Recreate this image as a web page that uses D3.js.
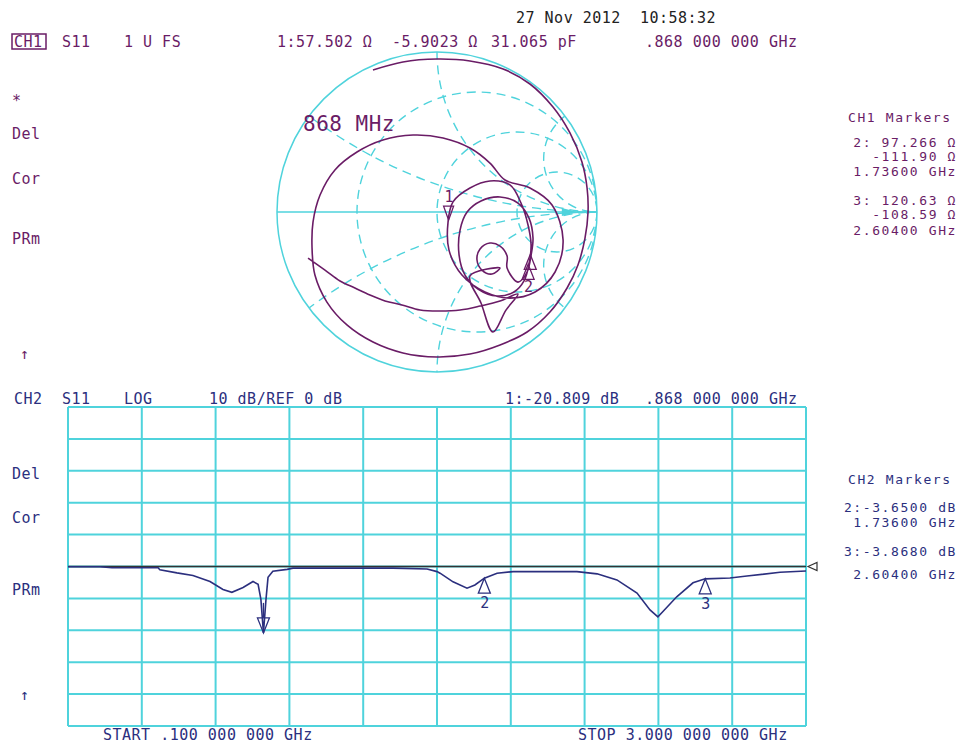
<!DOCTYPE html>
<html>
<head>
<meta charset="utf-8">
<script src="https://cdn.jsdelivr.net/npm/d3@7"></script>
<style>
  body { margin: 0; background: #fff; }
  svg text { font-family: "DejaVu Sans Mono", "Liberation Mono", monospace; font-size: 15px; letter-spacing: 0.5px; white-space: pre; }
</style>
</head>
<body>
<svg id="chart" width="957" height="744"></svg>
<script>
// ---- CH2 log magnitude trace (GHz, dB) ----
const freqGHz = [0.100, 0.226, 0.273, 0.454, 0.461, 0.528, 0.591, 0.658, 0.709, 0.744, 0.788, 0.827, 0.847, 0.858, 0.868, 0.878, 0.886, 0.905, 0.961, 0.984, 1.377, 1.511, 1.550, 1.562, 1.613, 1.668, 1.699, 1.736, 1.786, 1.849, 2.100, 2.179, 2.257, 2.336, 2.387, 2.418, 2.437, 2.492, 2.556, 2.604, 2.701, 2.768, 2.898, 3.000];
const s11dB = [-0.1, -0.1, -0.4, -0.4, -1.0, -2.0, -2.8, -4.7, -7.2, -8.1, -6.6, -4.7, -5.6, -10.3, -20.8, -10.3, -3.4, -1.5, -0.9, -0.5, -0.5, -0.8, -1.6, -2.1, -4.8, -6.8, -5.8, -3.65, -2.1, -1.6, -1.6, -2.3, -4.2, -8.3, -13.6, -15.8, -14.2, -9.5, -5.1, -3.87, -3.6, -3.0, -1.8, -1.4];

// ---- CH1 Smith chart trace (reflection coefficient, real / imag) ----
const gammaRe = [
  -0.400, -0.213, 0.000, 0.206, 0.413, 0.581, 0.725, 0.831, 0.906, 0.938, 0.944, 0.925, 0.881, 0.813, 0.706, 0.563, 0.394, 0.206, 0.000, -0.213, -0.400, -0.563, -0.688, -0.763, -0.781, -0.775, -0.731, -0.638, -0.500, -0.338, -0.150, 0.038, 0.206, 0.331, 0.425,
  0.581, 0.719, 0.788, 0.738, 0.613, 0.456, 0.300, 0.156, 0.075, 0.069, 0.100, 0.206, 0.331, 0.456,
  0.525, 0.569, 0.588, 0.575, 0.544, 0.481,
  0.375, 0.256, 0.175, 0.138, 0.144, 0.188, 0.275, 0.394, 0.506, 0.575, 0.600, 0.588, 0.563, 0.506,
  0.438, 0.438, 0.394, 0.331, 0.269, 0.250, 0.281, 0.344, 0.394,
  0.206, 0.275, 0.350, 0.431, 0.506,
  0.394, 0.269, 0.144, 0.019, -0.106, -0.219, -0.325, -0.419, -0.513, -0.606, -0.700, -0.806];
const gammaIm = [
  0.888, 0.938, 0.956, 0.944, 0.894, 0.800, 0.656, 0.494, 0.313, 0.150, 0.000, -0.163, -0.331, -0.475, -0.625, -0.750, -0.831, -0.888, -0.906, -0.881, -0.813, -0.706, -0.563, -0.394, -0.225, -0.063, 0.106, 0.263, 0.375, 0.450, 0.481, 0.463, 0.400, 0.306, 0.200,
  0.150, 0.044, -0.175, -0.375, -0.500, -0.538, -0.500, -0.394, -0.238, -0.063, 0.063, 0.150, 0.194, 0.169,
  0.056, -0.081, -0.206, -0.325, -0.431, -0.500,
  -0.525, -0.481, -0.394, -0.269, -0.113, 0.000, 0.069, 0.094, 0.056, -0.038, -0.163, -0.269, -0.375, -0.438,
  -0.350, -0.275, -0.213, -0.194, -0.231, -0.300, -0.363, -0.388, -0.350,
  -0.400, -0.569, -0.750, -0.613, -0.513,
  -0.556, -0.588, -0.613, -0.619, -0.613, -0.581, -0.556, -0.519, -0.475, -0.431, -0.363, -0.288];

// smith grid values (normalised resistance / reactance)
const rCircles = [1 / 3, 1, 3];
const xArcs = [1 / 3, 1, 3, -1 / 3, -1, -3];

// marker values
const markerFreq = [0.868, 1.736, 2.604];
const markerDB = [-20.809, -3.65, -3.868];
const markerGammaRe = [0.0725, 0.5695, 0.5829];
const markerGammaIm = [-0.0509, -0.327, -0.2654];

const ch1Color = '#6a1c66';
const ch2Color = '#2b2f7e';
const gridColor = '#4fd3dc';

const svg = d3.select('#chart');

// ---------------- text ----------------
const txt = (x, y, s, color, opts = {}) => svg.append('text')
  .attr('x', x).attr('y', y)
  .attr('fill', color)
  .attr('text-anchor', opts.anchor || 'start')
  .style('font-size', opts.size || null)
  .style('letter-spacing', opts.ls || null)
  .text(s);

txt(516, 23, '27 Nov 2012  10:58:32', '#222');

svg.append('rect').attr('x', 12).attr('y', 34).attr('width', 34).attr('height', 15)
  .attr('fill', 'none').attr('stroke', ch1Color).attr('stroke-width', 1.5);
txt(14, 47, 'CH1', ch1Color);
txt(62, 47, 'S11', ch1Color);
txt(124, 47, '1 U FS', ch1Color);
txt(277, 47, '1:57.502 Ω', ch1Color);
txt(392, 47, '-5.9023 Ω', ch1Color);
txt(491, 47, '31.065 pF', ch1Color);
txt(645, 47, '.868 000 000 GHz', ch1Color);

txt(12, 106, '*', ch1Color);
txt(12, 139, 'Del', ch1Color);
txt(12, 184, 'Cor', ch1Color);
txt(12, 244, 'PRm', ch1Color);
txt(20, 359, '↑', ch1Color);

const mk = { anchor: 'end', size: '13px', ls: '1.6px' };
txt(848, 122, 'CH1 Markers', ch1Color, { size: '13px', ls: '1.6px' });
txt(957, 147, '2: 97.266 Ω', ch1Color, mk);
txt(957, 161, '-111.90 Ω', ch1Color, mk);
txt(957, 176, '1.73600 GHz', ch1Color, mk);
txt(957, 205, '3: 120.63 Ω', ch1Color, mk);
txt(957, 219, '-108.59 Ω', ch1Color, mk);
txt(957, 235, '2.60400 GHz', ch1Color, mk);

txt(14, 404, 'CH2', ch2Color);
txt(62, 404, 'S11', ch2Color);
txt(124, 404, 'LOG', ch2Color);
txt(209, 404, '10 dB/REF 0 dB', ch2Color);
txt(505, 404, '1:-20.809 dB', ch2Color);
txt(645, 404, '.868 000 000 GHz', ch2Color);

txt(12, 479, 'Del', ch2Color);
txt(12, 523, 'Cor', ch2Color);
txt(12, 595, 'PRm', ch2Color);
txt(20, 700, '↑', ch2Color);

txt(848, 484, 'CH2 Markers', ch2Color, { size: '13px', ls: '1.6px' });
txt(957, 512, '2:-3.6500 dB', ch2Color, mk);
txt(957, 527, '1.73600 GHz', ch2Color, mk);
txt(957, 556, '3:-3.8680 dB', ch2Color, mk);
txt(957, 579, '2.60400 GHz', ch2Color, mk);

txt(103, 740, 'START .100 000 000 GHz', ch2Color);
txt(578, 740, 'STOP 3.000 000 000 GHz', ch2Color);

// ---------------- Smith chart ----------------
const sx = d3.scaleLinear().domain([-1, 1]).range([277, 597]);
const sy = d3.scaleLinear().domain([-1, 1]).range([372, 52]);
const R = sx(1) - sx(0);

svg.append('clipPath').attr('id', 'unit')
  .append('circle').attr('cx', sx(0)).attr('cy', sy(0)).attr('r', R);

const smithGrid = svg.append('g').attr('clip-path', 'url(#unit)')
  .attr('fill', 'none').attr('stroke', gridColor).attr('stroke-width', 1.4)
  .attr('stroke-dasharray', '9,6');

rCircles.forEach(r => {
  smithGrid.append('circle')
    .attr('cx', sx(r / (1 + r))).attr('cy', sy(0))
    .attr('r', sx(1 / (1 + r)) - sx(0));
});
xArcs.forEach(x => {
  smithGrid.append('circle')
    .attr('cx', sx(1)).attr('cy', sy(1 / x))
    .attr('r', Math.abs(sy(1 / Math.abs(x)) - sy(0)));
});

svg.append('circle').attr('cx', sx(0)).attr('cy', sy(0)).attr('r', R)
  .attr('fill', 'none').attr('stroke', gridColor).attr('stroke-width', 1.5);
svg.append('line').attr('x1', sx(-1)).attr('x2', sx(1)).attr('y1', sy(0)).attr('y2', sy(0))
  .attr('stroke', gridColor).attr('stroke-width', 1.5);
// small arrowhead on the real axis
svg.append('path').attr('d', `M${sx(0.78)},${sy(0) - 4} L${sx(0.88)},${sy(0)} L${sx(0.78)},${sy(0) + 4} z`)
  .attr('fill', gridColor);

const smithLine = d3.line().x(d => sx(d[0])).y(d => sy(d[1])).curve(d3.curveCatmullRom.alpha(0.5));
svg.append('path')
  .attr('d', smithLine(gammaRe.map((g, i) => [g, gammaIm[i]])))
  .attr('fill', 'none').attr('stroke', ch1Color).attr('stroke-width', 1.6);

txt(303, 131, '868 MHz', ch1Color, { size: '21px' });

// smith markers
const mk1x = sx(markerGammaRe[0]), mk1y = sy(markerGammaIm[0]);
svg.append('path').attr('d', `M${mk1x},${mk1y} l-5,-14 h10 z`)
  .attr('fill', 'none').attr('stroke', ch1Color).attr('stroke-width', 1.3);
txt(mk1x - 4, mk1y - 18, '1', ch1Color);
[1, 2].forEach(i => {
  const mx = sx(markerGammaRe[i]), my = sy(markerGammaIm[i]);
  svg.append('path').attr('d', `M${mx},${my} l-6,15 h12 z`)
    .attr('fill', 'none').attr('stroke', ch1Color).attr('stroke-width', 1.3);
});
txt(sx(markerGammaRe[1]) - 4, sy(markerGammaIm[1]) + 28, '2', ch1Color);

// ---------------- CH2 log mag grid ----------------
const x = d3.scaleLinear().domain([0.1, 3.0]).range([68, 806]);
const y = d3.scaleLinear().domain([-50, 50]).range([726, 407]);

const grid = svg.append('g').attr('stroke', gridColor).attr('stroke-width', 2);
d3.range(11).forEach(i => {
  const f = 0.1 + i * 0.29;
  grid.append('line').attr('x1', x(f)).attr('x2', x(f)).attr('y1', y(-50)).attr('y2', y(50));
});
d3.range(-50, 51, 10).forEach(v => {
  grid.append('line').attr('x1', x(0.1)).attr('x2', x(3.0)).attr('y1', y(v)).attr('y2', y(v));
});

// reference line
svg.append('line').attr('x1', x(0.1)).attr('x2', x(3.0)).attr('y1', y(0)).attr('y2', y(0))
  .attr('stroke', '#333').attr('stroke-width', 1.5);
svg.append('path').attr('d', `M${x(3.0) + 2},${y(0)} l9,-4 v8 z`)
  .attr('fill', 'none').attr('stroke', '#333').attr('stroke-width', 1.2);

const line = d3.line().x((d, i) => x(freqGHz[i])).y(d => y(d));
svg.append('path').attr('d', line(s11dB))
  .attr('fill', 'none').attr('stroke', ch2Color).attr('stroke-width', 1.6);

// CH2 markers
{
  const mx = x(markerFreq[0]), my = y(markerDB[0]);
  svg.append('path').attr('d', `M${mx},${my} l-6,-15 h12 z`)
    .attr('fill', 'none').attr('stroke', ch2Color).attr('stroke-width', 1.3);
  svg.append('line').attr('x1', mx).attr('x2', mx).attr('y1', my - 15).attr('y2', my - 30)
    .attr('stroke', ch2Color).attr('stroke-width', 1.3);
}
[1, 2].forEach(i => {
  const mx = x(markerFreq[i]), my = y(markerDB[i]);
  svg.append('path').attr('d', `M${mx},${my} l-6,15 h12 z`)
    .attr('fill', 'none').attr('stroke', ch2Color).attr('stroke-width', 1.3);
  txt(mx - 4, my + 30, String(i + 1), ch2Color);
});
</script>
</body>
</html>
